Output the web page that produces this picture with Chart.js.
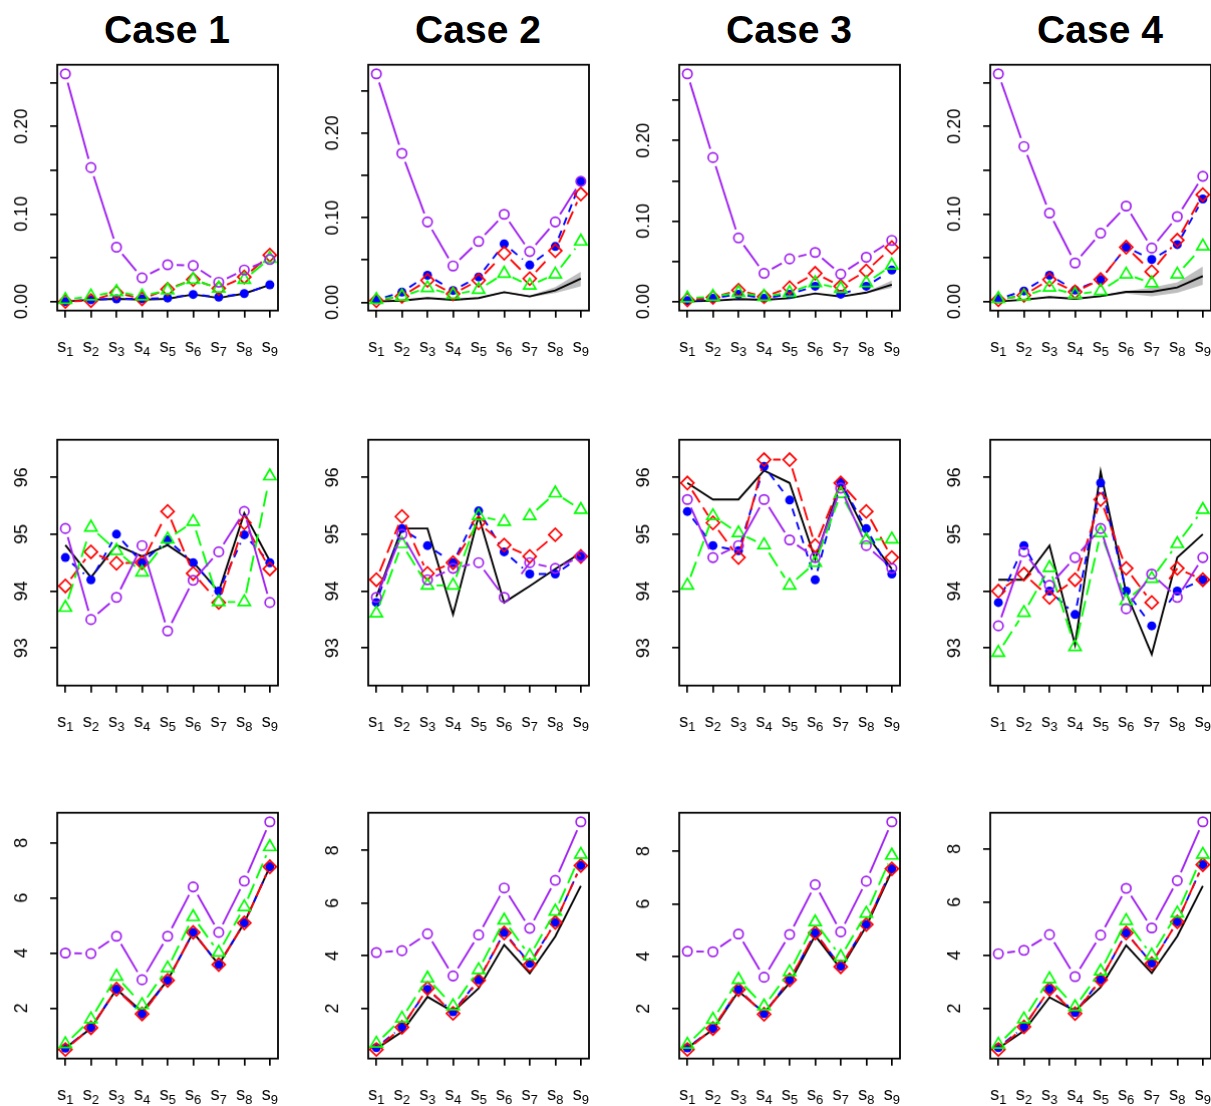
<!DOCTYPE html>
<html>
<head>
<meta charset="utf-8">
<script src="https://cdn.jsdelivr.net/npm/chart.js@4.4.0/dist/chart.umd.min.js"></script>
<style>
  body { margin: 0; width: 1211px; height: 1106px; overflow: hidden; background: #fff;
         font-family: "Liberation Sans", Arial, sans-serif; }
  canvas { position: absolute; }
  .title { position: absolute; width: 300px; text-align: center; font-weight: bold;
           font-size: 39px; line-height: 40px; color: #000; }
</style>
</head>
<body>
<script>
// x axis: stages s1..s9
var stages = [1, 2, 3, 4, 5, 6, 7, 8, 9];
var stageSubs = ['1', '2', '3', '4', '5', '6', '7', '8', '9'];
var caseTitles = ['Case 1', 'Case 2', 'Case 3', 'Case 4'];

// series order in every panel: black, blue, red, green, purple
// top row
var mseCase1 = [
  [0.000, 0.002, 0.003, 0.002, 0.003, 0.008, 0.004, 0.009, 0.019],
  [0.000, 0.002, 0.003, 0.003, 0.004, 0.008, 0.005, 0.009, 0.019],
  [0.000, 0.001, 0.010, 0.003, 0.014, 0.025, 0.015, 0.028, 0.053],
  [0.002, 0.006, 0.011, 0.006, 0.013, 0.025, 0.015, 0.025, 0.049],
  [0.260, 0.153, 0.062, 0.027, 0.042, 0.041, 0.022, 0.036, 0.048]
];
var mseCase2 = [
  [0.001, 0.002, 0.005, 0.003, 0.005, 0.012, 0.007, 0.014, 0.028],
  [0.003, 0.012, 0.032, 0.014, 0.030, 0.069, 0.044, 0.066, 0.143],
  [0.002, 0.007, 0.026, 0.010, 0.026, 0.058, 0.028, 0.061, 0.128],
  [0.003, 0.007, 0.017, 0.009, 0.015, 0.034, 0.020, 0.033, 0.072],
  [0.270, 0.176, 0.095, 0.043, 0.072, 0.104, 0.060, 0.095, 0.143]
];
var mseCase3 = [
  [0.000, 0.001, 0.003, 0.002, 0.004, 0.010, 0.006, 0.011, 0.021],
  [0.001, 0.004, 0.009, 0.004, 0.009, 0.019, 0.009, 0.019, 0.039],
  [0.002, 0.005, 0.014, 0.006, 0.017, 0.035, 0.019, 0.038, 0.067],
  [0.004, 0.006, 0.011, 0.006, 0.011, 0.023, 0.016, 0.023, 0.045],
  [0.283, 0.179, 0.079, 0.035, 0.053, 0.061, 0.034, 0.055, 0.076]
];
var mseCase4 = [
  [0.000, 0.002, 0.005, 0.003, 0.006, 0.011, 0.011, 0.016, 0.029],
  [0.003, 0.012, 0.030, 0.013, 0.025, 0.062, 0.048, 0.065, 0.117],
  [0.002, 0.007, 0.025, 0.011, 0.025, 0.062, 0.034, 0.070, 0.122],
  [0.003, 0.006, 0.016, 0.008, 0.012, 0.031, 0.021, 0.031, 0.063],
  [0.260, 0.177, 0.101, 0.044, 0.078, 0.109, 0.061, 0.097, 0.143]
];
// grey bands around the black line (lower, upper)
var mseBandCase2 = [
  [0.001, 0.002, 0.005, 0.003, 0.005, 0.011, 0.006, 0.011, 0.019],
  [0.001, 0.002, 0.005, 0.003, 0.006, 0.013, 0.008, 0.018, 0.036]
];
var mseBandCase3 = [
  [0.000, 0.001, 0.003, 0.002, 0.004, 0.010, 0.006, 0.010, 0.017],
  [0.000, 0.001, 0.003, 0.002, 0.004, 0.010, 0.006, 0.012, 0.026]
];
var mseBandCase4 = [
  [0.000, 0.002, 0.005, 0.003, 0.005, 0.009, 0.006, 0.010, 0.019],
  [0.000, 0.002, 0.005, 0.003, 0.007, 0.012, 0.016, 0.022, 0.040]
];

// middle row
var covCase1 = [
  [94.81, 94.24, 94.81, 94.61, 94.81, 94.51, 93.99, 95.37, 94.53],
  [94.59, 94.20, 95.00, 94.50, 94.90, 94.50, 94.00, 94.99, 94.50],
  [94.09, 94.69, 94.49, 94.50, 95.40, 94.31, 93.80, 95.20, 94.39],
  [93.71, 95.12, 94.71, 94.33, 94.91, 95.22, 93.81, 93.81, 96.02],
  [95.10, 93.50, 93.89, 94.80, 93.30, 94.19, 94.69, 95.40, 93.80]
];
var covCase2 = [
  [93.90, 95.10, 95.10, 93.59, 95.32, 93.80, 94.09, 94.39, 94.67],
  [93.80, 95.10, 94.80, 94.50, 95.41, 94.69, 94.30, 94.30, 94.61],
  [94.20, 95.31, 94.31, 94.50, 95.20, 94.81, 94.61, 94.99, 94.61],
  [93.61, 94.83, 94.10, 94.10, 95.32, 95.22, 95.32, 95.72, 95.43],
  [93.89, 95.00, 94.20, 94.40, 94.50, 93.89, 94.50, 94.40, 94.61]
];
var covCase3 = [
  [95.90, 95.61, 95.61, 96.12, 95.90, 94.56, 95.91, 95.00, 94.39],
  [95.40, 94.80, 94.71, 96.19, 95.60, 94.20, 95.91, 95.10, 94.30],
  [95.90, 95.20, 94.59, 96.31, 96.31, 94.80, 95.90, 95.40, 94.59],
  [94.10, 95.32, 95.02, 94.81, 94.10, 94.50, 95.71, 94.90, 94.91],
  [95.61, 94.59, 94.80, 95.61, 94.90, 94.59, 95.81, 94.80, 94.40]
];
var covCase4 = [
  [94.20, 94.20, 94.80, 93.06, 96.10, 93.97, 92.89, 94.59, 95.00],
  [93.80, 94.80, 94.00, 93.59, 95.90, 94.00, 93.39, 94.00, 94.20],
  [94.00, 94.30, 93.89, 94.20, 95.61, 94.40, 93.80, 94.40, 94.20],
  [92.92, 93.62, 94.41, 93.02, 95.02, 93.83, 94.22, 94.83, 95.43],
  [93.39, 94.69, 94.10, 94.59, 95.10, 93.69, 94.30, 93.89, 94.59]
];

// bottom row
var widthCase1 = [
  [0.55, 1.27, 2.69, 1.87, 3.01, 4.75, 3.58, 5.09, 7.13],
  [0.55, 1.29, 2.69, 1.79, 3.01, 4.75, 3.58, 5.09, 7.13],
  [0.50, 1.29, 2.69, 1.79, 3.01, 4.75, 3.58, 5.09, 7.13],
  [0.70, 1.60, 3.15, 2.12, 3.45, 5.31, 4.02, 5.67, 7.85],
  [4.00, 3.98, 4.61, 3.03, 4.61, 6.40, 4.75, 6.61, 8.76]
];
var widthCase2 = [
  [0.47, 1.11, 2.44, 1.87, 2.76, 4.41, 3.33, 4.73, 6.65],
  [0.51, 1.30, 2.72, 1.87, 3.08, 4.88, 3.71, 5.26, 7.42],
  [0.44, 1.28, 2.76, 1.81, 3.06, 4.86, 3.65, 5.26, 7.42],
  [0.67, 1.62, 3.14, 2.09, 3.46, 5.34, 3.99, 5.68, 7.84],
  [4.12, 4.19, 4.83, 3.23, 4.79, 6.57, 5.04, 6.86, 9.08]
];
var widthCase3 = [
  [0.51, 1.21, 2.67, 1.85, 2.99, 4.79, 3.52, 5.14, 7.24],
  [0.51, 1.25, 2.73, 1.82, 3.10, 4.89, 3.62, 5.21, 7.33],
  [0.45, 1.25, 2.73, 1.79, 3.10, 4.89, 3.60, 5.21, 7.33],
  [0.64, 1.59, 3.11, 2.10, 3.40, 5.30, 3.98, 5.63, 7.84],
  [4.19, 4.17, 4.85, 3.20, 4.83, 6.73, 4.93, 6.86, 9.12]
];
var widthCase4 = [
  [0.50, 1.16, 2.42, 1.91, 2.80, 4.38, 3.33, 4.72, 6.61],
  [0.53, 1.31, 2.73, 1.85, 3.08, 4.84, 3.71, 5.26, 7.41],
  [0.46, 1.31, 2.73, 1.81, 3.08, 4.84, 3.69, 5.26, 7.41],
  [0.65, 1.60, 3.11, 2.06, 3.40, 5.30, 4.00, 5.58, 7.79],
  [4.06, 4.19, 4.78, 3.20, 4.76, 6.52, 5.03, 6.81, 9.02]
];

// y ticks and their labels per row
var mseTicks = [0, 0.05, 0.10, 0.15, 0.20, 0.25];
var mseTickLabels = ['0.00', '', '0.10', '', '0.20', ''];
var covTicks = [93, 94, 95, 96];
var covTickLabels = ['93', '94', '95', '96'];
var widthTicks = [2, 4, 6, 8];
var widthTickLabels = ['2', '4', '6', '8'];
var covLimits = [92.5, 96.5];

var colLeft = [57, 368, 679, 990];
var rowTop = [65, 440, 813];
var boxW = 220, boxH = 245, axisW = 57, axisH = 46, padTop = 6, padRight = 4;
var pointGap = 9; // R type="b": lines stop short of the points

var seriesStyle = [
  { color: '#000000', dash: [], shape: false, r: 0, filled: false, order: 5, gap: false },
  { color: '#0000FF', dash: [8, 6], shape: 'circle', r: 4.5, filled: true, order: 4, gap: true },
  { color: '#FF0000', dash: [14, 6], shape: 'rectRot', r: 6.5, filled: false, order: 3, gap: true },
  { color: '#00FF00', dash: [16, 6], shape: 'triangle', r: 7, filled: false, order: 2, gap: true },
  { color: '#A020F0', dash: [], shape: 'circle', r: 4.7, filled: false, order: 1, gap: true }
];

function rRange(lo, hi) {
  var d = (hi - lo) * 0.04;
  return [lo - d, hi + d];
}

// dash array for one segment: blank gap at both ends, style pattern in between
function gapDash(pattern, gap) {
  return function(ctx) {
    var L = Math.hypot(ctx.p1.x - ctx.p0.x, ctx.p1.y - ctx.p0.y);
    var inner = L - 2 * gap;
    if (inner <= 0) return [0, L + 20];
    var dash = [0, gap];
    if (!pattern.length) {
      dash.push(inner, gap + 20);
      return dash;
    }
    var used = 0, k = 0;
    while (used < inner - 0.01) {
      var seg = Math.min(pattern[k % pattern.length], inner - used);
      dash.push(seg);
      used += seg;
      k++;
    }
    if (dash.length % 2 === 1) dash.push(gap + 20);
    else dash[dash.length - 1] += gap + 20;
    return dash;
  };
}

var rBox = {
  id: 'rBox',
  afterDraw: function(chart, args, opts) {
    var ctx = chart.ctx, a = chart.chartArea;
    var xs = chart.scales.x, ys = chart.scales.y;
    ctx.save();
    ctx.strokeStyle = '#000';
    ctx.lineWidth = 1.8;
    ctx.strokeRect(a.left, a.top, a.right - a.left, a.bottom - a.top);
    ctx.fillStyle = '#000';
    // x labels: s with subscript
    ctx.textAlign = 'left';
    ctx.textBaseline = 'alphabetic';
    stages.forEach(function(v, i) {
      var px = xs.getPixelForValue(v);
      ctx.font = '18px "Liberation Sans", Arial, sans-serif';
      var w1 = ctx.measureText('s').width;
      ctx.font = '13px "Liberation Sans", Arial, sans-serif';
      var w2 = ctx.measureText(stageSubs[i]).width;
      var x0 = px - (w1 + w2) / 2;
      var base = a.bottom + 41;
      ctx.font = '18px "Liberation Sans", Arial, sans-serif';
      ctx.fillText('s', x0, base);
      ctx.font = '13px "Liberation Sans", Arial, sans-serif';
      ctx.fillText(stageSubs[i], x0 + w1, base + 4);
    });
    // y labels, rotated like R
    ctx.font = '18px "Liberation Sans", Arial, sans-serif';
    ctx.textAlign = 'center';
    ctx.textBaseline = 'middle';
    opts.ticks.forEach(function(v, i) {
      if (!opts.labels[i]) return;
      ctx.save();
      ctx.translate(a.left - 35, ys.getPixelForValue(v));
      ctx.rotate(-Math.PI / 2);
      ctx.fillText(opts.labels[i], 0, 0);
      ctx.restore();
    });
    ctx.restore();
  }
};

function makePanel(col, row, series, band, yTicks, yLabels, limits) {
  var canvas = document.createElement('canvas');
  var w = axisW + boxW + padRight, h = padTop + boxH + axisH;
  canvas.width = w; canvas.height = h;
  canvas.style.left = (colLeft[col] - axisW) + 'px';
  canvas.style.top = (rowTop[row] - padTop) + 'px';
  document.body.appendChild(canvas);

  var all = [].concat.apply([], series);
  if (band) all = all.concat(band[0], band[1]);
  var lim = limits ? rRange(limits[0], limits[1]) : rRange(Math.min.apply(null, all), Math.max.apply(null, all));

  var datasets = [];
  if (band) {
    datasets.push({
      data: band[0].map(function(v, i) { return { x: stages[i], y: v }; }),
      borderWidth: 0, pointRadius: 0, fill: false, order: 10
    });
    datasets.push({
      data: band[1].map(function(v, i) { return { x: stages[i], y: v }; }),
      borderWidth: 0, pointRadius: 0, fill: '-1', backgroundColor: '#BEBEBE', order: 10
    });
  }
  series.forEach(function(vals, k) {
    var s = seriesStyle[k];
    var ds = {
      data: vals.map(function(v, i) { return { x: stages[i], y: v }; }),
      borderColor: s.color,
      borderWidth: 1.9,
      borderDash: s.dash,
      pointStyle: s.shape || 'circle',
      pointRadius: s.r,
      pointBorderWidth: s.filled ? 0 : 1.7,
      pointBackgroundColor: s.filled ? s.color : 'rgba(0,0,0,0)',
      pointBorderColor: s.color,
      fill: false,
      tension: 0,
      order: s.order
    };
    if (s.gap) ds.segment = { borderDash: gapDash(s.dash, pointGap) };
    datasets.push(ds);
  });

  var chart = new Chart(canvas.getContext('2d'), {
    type: 'line',
    data: { datasets: datasets },
    plugins: [rBox],
    options: {
      responsive: false,
      maintainAspectRatio: false,
      animation: false,
      devicePixelRatio: 1,
      layout: { padding: { top: padTop, right: padRight, left: 0, bottom: 0 } },
      plugins: {
        legend: { display: false },
        tooltip: { enabled: false },
        rBox: { ticks: yTicks, labels: yLabels }
      },
      scales: {
        x: {
          type: 'linear',
          min: 0.68, max: 9.32,
          afterBuildTicks: function(s) { s.ticks = stages.map(function(v) { return { value: v }; }); },
          afterFit: function(s) { s.height = axisH; },
          ticks: { display: false },
          border: { display: false },
          grid: { drawOnChartArea: false, drawTicks: true, tickLength: 7, color: '#000', lineWidth: 1.7 }
        },
        y: {
          type: 'linear',
          min: lim[0], max: lim[1],
          afterBuildTicks: function(s) { s.ticks = yTicks.map(function(v) { return { value: v }; }); },
          afterFit: function(s) { s.width = axisW; },
          ticks: { display: false },
          border: { display: false },
          grid: { drawOnChartArea: false, drawTicks: true, tickLength: 7, color: '#000', lineWidth: 1.7 }
        }
      }
    }
  });

  // make the plot box land exactly on the intended rectangle
  for (var it = 0; it < 3; it++) {
    var a = chart.chartArea;
    var dw = boxW - (a.right - a.left), dh = boxH - (a.bottom - a.top);
    if (Math.abs(dw) < 0.5 && Math.abs(dh) < 0.5) break;
    w += dw; h += dh;
    chart.resize(w, h);
  }
  a = chart.chartArea;
  canvas.style.left = (colLeft[col] - a.left) + 'px';
  canvas.style.top = (rowTop[row] - a.top) + 'px';
}

caseTitles.forEach(function(t, c) {
  var d = document.createElement('div');
  d.className = 'title';
  d.textContent = t;
  d.style.left = (colLeft[c] + boxW / 2 - 150) + 'px';
  d.style.top = '10px';
  document.body.appendChild(d);
});

var mseRows = [mseCase1, mseCase2, mseCase3, mseCase4];
var mseBands = [null, mseBandCase2, mseBandCase3, mseBandCase4];
var covRows = [covCase1, covCase2, covCase3, covCase4];
var widthRows = [widthCase1, widthCase2, widthCase3, widthCase4];

for (var c = 0; c < 4; c++) {
  makePanel(c, 0, mseRows[c], mseBands[c], mseTicks, mseTickLabels, null);
  makePanel(c, 1, covRows[c], null, covTicks, covTickLabels, covLimits);
  makePanel(c, 2, widthRows[c], null, widthTicks, widthTickLabels, null);
}
</script>
</body>
</html>
